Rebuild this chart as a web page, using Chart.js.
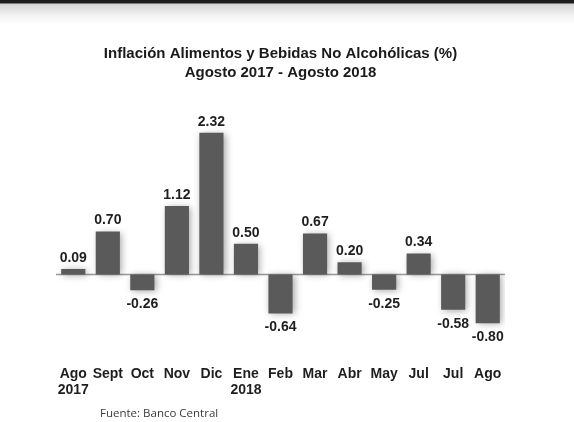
<!DOCTYPE html>
<html>
<head>
<meta charset="utf-8">
<script src="https://cdn.jsdelivr.net/npm/chart.js@4"></script>
<style>
	html, body { margin: 0; padding: 0; }
	body {
		width: 574px; height: 422px; overflow: hidden; position: relative;
		background: linear-gradient(to bottom, #1c1c1c 0px, #1c1c1c 3px, #d4d4d4 4px, #f3f3f3 16px, #ffffff 24px);
	}
	#fuente {
		position: absolute; left: 100px; top: 405px;
		font-family: "Open Sans", sans-serif; font-size: 11.5px; color: #3a3a3a;
	}
</style>
</head>
<body>
<canvas id="inflChart" width="574" height="422"></canvas>
<div id="fuente">Fuente: Banco Central</div>
<script>
// datos (%), agosto 2017 - agosto 2018
const meses = [ ['Ago', '2017'], 'Sept', 'Oct', 'Nov', 'Dic', ['Ene', '2018'], 'Feb',
		'Mar', 'Abr', 'May', 'Jul', 'Jul', 'Ago' ];
const inflacion = [ 0.09, 0.70, -0.26, 1.12, 2.32, 0.50, -0.64, 0.67, 0.20, -0.25, 0.34, -0.58, -0.80 ];
const etiquetas = [ '0.09', '0.70', '-0.26', '1.12', '2.32', '0.50', '-0.64', '0.67', '0.20', '-0.25', '0.34', '-0.58', '-0.80' ];

const infl_ctx = document.getElementById('inflChart');
const fuenteBold = 'bold 14px "Liberation Sans", Arial, sans-serif';

// linea del cero + valores encima/debajo de cada barra
const extras = {
	id : 'extras',
	beforeDatasetsDraw : function(chart) {
		const ctx = chart.ctx, area = chart.chartArea;
		const y0 = chart.scales.y.getPixelForValue(0);
		ctx.save();
		ctx.strokeStyle = '#9a9a9a';
		ctx.lineWidth = 1.5;
		ctx.beginPath();
		ctx.moveTo(area.left, y0);
		ctx.lineTo(area.right, y0);
		ctx.stroke();
		ctx.restore();
		// sombra de las barras
		ctx.save();
		ctx.shadowColor = 'rgba(0,0,0,0.35)';
		ctx.shadowBlur = 7;
		ctx.shadowOffsetX = 2;
		ctx.shadowOffsetY = 1;
	},
	afterDatasetsDraw : function(chart) {
		const ctx = chart.ctx;
		ctx.restore();
		const meta = chart.getDatasetMeta(0);
		ctx.save();
		ctx.font = fuenteBold;
		ctx.fillStyle = '#1e1e1e';
		ctx.textAlign = 'center';
		meta.data.forEach(function(bar, i) {
			if (inflacion[i] >= 0) {
				ctx.textBaseline = 'bottom';
				ctx.fillText(etiquetas[i], bar.x, bar.y - 4);
			} else {
				ctx.textBaseline = 'top';
				ctx.fillText(etiquetas[i], bar.x, bar.y + 7);
			}
		});
		ctx.restore();
	}
};

new Chart(infl_ctx, {
	type : 'bar',
	data : {
		labels : meses,
		datasets : [ {
			data : inflacion,
			backgroundColor : function(c) {
				const bar = c.element;
				if (!bar || bar.x === undefined) return '#5a5a5a';
				const w = bar.width || 24;
				const g = c.chart.ctx.createLinearGradient(bar.x - w / 2, 0, bar.x + w / 2, 0);
				g.addColorStop(0, '#4f4f4f');
				g.addColorStop(0.5, '#5e5e5e');
				g.addColorStop(1, '#6b6b6b');
				return g;
			},
			borderWidth : 0,
			barPercentage : 0.7,
			categoryPercentage : 1.0
		} ]
	},
	options : {
		responsive : false,
		animation : false,
		devicePixelRatio : 1,
		layout : { padding : { top : 44, left : 56, right : 69, bottom : 20 } },
		plugins : {
			legend : { display : false },
			tooltip : { enabled : false },
			title : {
				display : true,
				text : [ 'Inflación Alimentos y Bebidas No Alcohólicas (%)', 'Agosto 2017 - Agosto 2018' ],
				color : '#1a1a1a',
				font : { family : '"Liberation Sans", Arial, sans-serif', size : 15, weight : 'bold', lineHeight : 1.3 },
				padding : { top : 0, bottom : 24 }
			}
		},
		scales : {
			x : {
				grid : { display : false },
				border : { display : false },
				ticks : {
					color : '#1e1e1e',
					padding : 4,
					maxRotation : 0,
					autoSkip : false,
					font : { family : '"Liberation Sans", Arial, sans-serif', size : 14, weight : 'bold', lineHeight : 1.15 }
				}
			},
			y : {
				display : false,
				min : -1.3,
				max : 2.74
			}
		}
	},
	plugins : [ extras ]
});
</script>
</body>
</html>
